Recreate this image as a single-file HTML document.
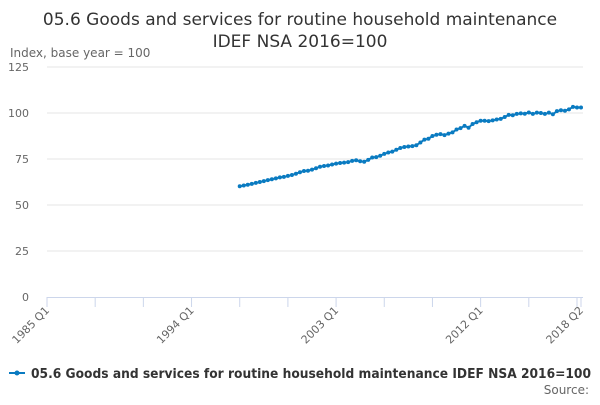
<!DOCTYPE html>
<html><head><meta charset="utf-8"><style>
body{margin:0;background:#fff;}
svg{font-family:"DejaVu Sans","Liberation Sans",sans-serif;}
</style></head><body>
<svg id="chart" width="600" height="400">
<text x="300" y="25" text-anchor="middle" font-size="17" fill="#333">05.6 Goods and services for routine household maintenance</text>
<text x="300" y="47" text-anchor="middle" font-size="17" fill="#333">IDEF NSA 2016=100</text>
<text x="10" y="57" font-size="12" fill="#666">Index, base year = 100</text>
<g id="grid"></g><g id="xaxis"></g><g id="series"></g>
<g>
<line x1="9" y1="373" x2="25" y2="373" stroke="#0a7bc1" stroke-width="2"/>
<circle cx="17" cy="373" r="2.5" fill="#0a7bc1"/>
<text x="31" y="378" font-size="13" font-weight="bold" fill="#333" textLength="560" lengthAdjust="spacingAndGlyphs">05.6 Goods and services for routine household maintenance IDEF NSA 2016=100</text>
</g>
<text x="589" y="394" text-anchor="end" font-size="12" fill="#666">Source:</text>
</svg>
<script>
const yTicks=[0,25,50,75,100,125];
const xTickLabels=["1985 Q1","1994 Q1","2003 Q1","2012 Q1","2018 Q2"];
const xTickLabelIdx=[0,36,72,108,133];
const startIdx=48;
const values=[60.2,60.6,61.0,61.5,62.0,62.5,63.0,63.5,64.0,64.5,65.0,65.3,65.8,66.3,67.0,67.8,68.5,68.6,69.2,70.0,70.8,71.2,71.5,72.0,72.5,72.8,73.0,73.3,74.0,74.3,73.8,73.5,74.5,75.8,76.0,76.8,77.8,78.5,79.0,80.0,81.0,81.5,81.8,82.0,82.5,84.0,85.5,86.0,87.5,88.2,88.5,88.0,88.8,89.5,91.0,91.8,93.0,92.0,94.0,95.0,95.8,95.8,95.6,96.0,96.5,96.8,97.8,99.0,98.8,99.5,99.8,99.6,100.3,99.5,100.2,100.0,99.5,100.2,99.3,101.0,101.5,101.2,102.0,103.3,103.0,103.0];
const NS="http://www.w3.org/2000/svg";
const x0=47,x1=581,nQ=133,yB=297,yT=67;
const xs=i=>x0+(x1-x0)*i/nQ;
const ys=v=>yB-(yB-yT)*v/125;
function mk(t,a,p){const e=document.createElementNS(NS,t);for(const k in a)e.setAttribute(k,a[k]);p.appendChild(e);return e;}
const grid=document.getElementById('grid');
yTicks.forEach(v=>{
 if(v>0){const l=mk('line',{x1:x0,x2:583,y1:ys(v),y2:ys(v),stroke:'#e6e6e6'},grid);
 
 }
 const t=mk('text',{x:29,y:ys(v)+4,'text-anchor':'end','font-size':11,fill:'#666'},grid);
 t.textContent=v;
 
 
});
const xa=document.getElementById('xaxis');
const al=mk('line',{x1:x0,x2:583,y1:yB+0.5,y2:yB+0.5,stroke:'#ccd6eb'},xa);


for(let i=0;i<=nQ;i+=12){const tk=mk('line',{x1:xs(i),x2:xs(i),y1:yB,y2:yB+10,stroke:'#ccd6eb'},xa);
 
 }
const tkE=mk('line',{x1:xs(nQ),x2:xs(nQ),y1:yB,y2:yB+10,stroke:'#ccd6eb'},xa);


xTickLabels.forEach((s,k)=>{const x=xs(xTickLabelIdx[k])+3,y=yB+14;
 const t=mk('text',{x:x,y:y,'text-anchor':'end','font-size':11,fill:'#666',transform:`rotate(-45 ${x} ${y})`},xa);
 t.textContent=s;
 
 });
const sg=document.getElementById('series');
const pts=values.map((v,i)=>[xs(startIdx+i),ys(v)]);
const pl=mk('polyline',{points:pts.map(p=>p.join(',')).join(' '),fill:'none',stroke:'#0a7bc1','stroke-width':2},sg);


pts.forEach(p=>{const c=mk('circle',{cx:p[0],cy:p[1],r:2,fill:'#0a7bc1'},sg);
 
 });
</script>
</body></html>
